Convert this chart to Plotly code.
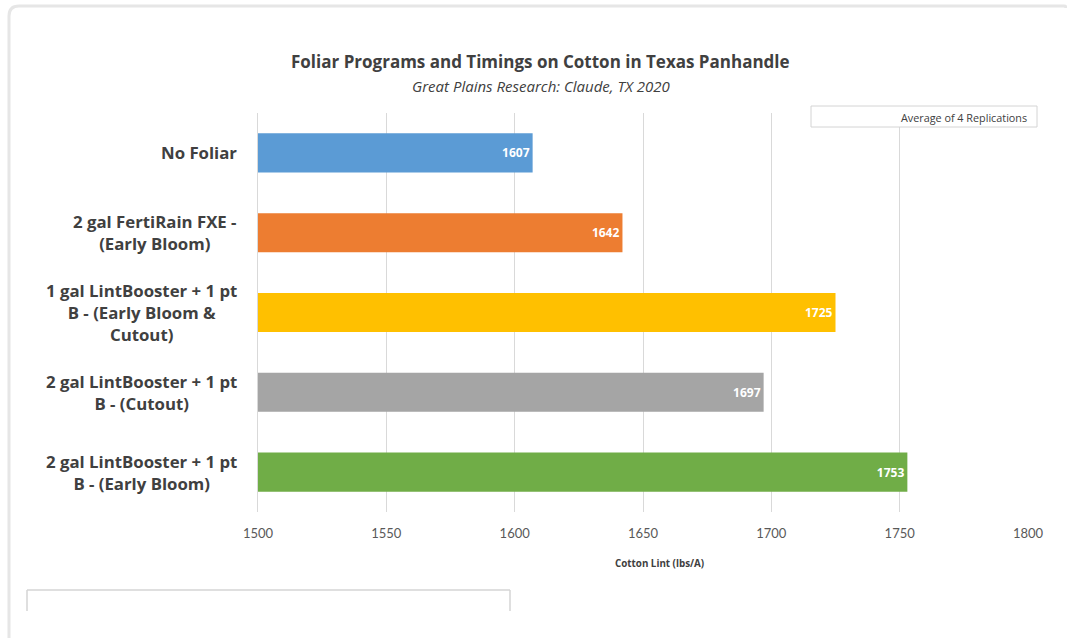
import plotly.graph_objects as go

categories = [
    "No Foliar",
    "2 gal FertiRain FXE -<br>(Early Bloom)",
    "1 gal LintBooster + 1 pt<br>B - (Early Bloom &amp;<br>Cutout)",
    "2 gal LintBooster + 1 pt<br>B - (Cutout)",
    "2 gal LintBooster + 1 pt<br>B - (Early Bloom)",
]
values = [1607, 1642, 1725, 1697, 1753]
colors = ["#5B9BD5", "#ED7D31", "#FFC000", "#A5A5A5", "#70AD47"]
x_ticks = [1500, 1550, 1600, 1650, 1700, 1750, 1800]

W, H = 1067, 638
L, R, T, B = 258, 1028, 113, 512

def px(x):
    return (x - L) / (R - L)

def py(y):
    return (B - y) / (B - T)

fig = go.Figure(go.Bar(
    y=categories, x=values, orientation="h",
    marker=dict(color=colors, line=dict(width=0)),
    text=[str(v) for v in values], textposition="inside",
    insidetextanchor="end",
    textfont=dict(color="white", size=12, family="Open Sans", weight="bold"),
    width=0.49, cliponaxis=False,
))

fig.update_layout(
    width=W, height=H,
    margin=dict(l=L, r=W - R, t=T, b=H - B),
    paper_bgcolor="white", plot_bgcolor="white",
    showlegend=False,
    font=dict(family="Open Sans"),
    xaxis=dict(range=[1500, 1800], tickvals=x_ticks, showgrid=True,
               gridcolor="#d9d9d9", gridwidth=1, zeroline=False,
               tickfont=dict(size=13, color="#595959", family="Lato"),
               ticklabelstandoff=12),
    yaxis=dict(autorange="reversed", showline=True, linecolor="#d9d9d9",
               linewidth=1, showgrid=False, showticklabels=False),
)

# category labels (centered multi-line, right edge at x=238)
for c in categories:
    fig.add_annotation(xref="paper", yref="y", x=px(239), y=c, text=f"<b>{c}</b>",
                       showarrow=False, align="center", xanchor="right",
                       yanchor="middle",
                       font=dict(size=16.8, color="#404040", family="Open Sans"))

shapes = []
# outer card border
d = (f"M {px(9)} {py(700)} L {px(9)} {py(16)} Q {px(9)} {py(6)} {px(19)} {py(6)} "
     f"L {px(1064)} {py(6)} Q {px(1066)} {py(6)} {px(1066)} {py(8)}")
shapes.append(dict(type="path", xref="paper", yref="paper", path=d,
                   line=dict(color="#e6e6e6", width=3)))
# average box
shapes.append(dict(type="rect", xref="paper", yref="paper",
                   x0=px(811), x1=px(1037), y0=py(127), y1=py(106),
                   fillcolor="white", line=dict(color="#d4d4d4", width=1), layer="above"))
# bottom-left box (partial)
for (x0, y0, x1, y1) in [(27, 590, 510, 590), (27, 590, 27, 611), (510, 590, 510, 611)]:
    shapes.append(dict(type="line", xref="paper", yref="paper",
                       x0=px(x0), y0=py(y0), x1=px(x1), y1=py(y1),
                       line=dict(color="#d4d4d4", width=1.5)))
fig.update_layout(shapes=shapes)

fig.add_annotation(xref="paper", yref="paper", x=px(540), y=py(62),
                   text="<b>Foliar Programs and Timings on Cotton in Texas Panhandle</b>",
                   showarrow=False, font=dict(size=17, color="#404040"),
                   xanchor="center", yanchor="middle")
fig.add_annotation(xref="paper", yref="paper", x=px(541), y=py(86),
                   text="<i>Great Plains Research: Claude, TX 2020</i>",
                   showarrow=False, font=dict(size=15, color="#404040"),
                   xanchor="center", yanchor="middle")
fig.add_annotation(xref="paper", yref="paper", x=px(1029), y=py(117),
                   text="Average of 4 Replications",
                   showarrow=False, font=dict(size=10.8, color="#404040"),
                   xanchor="right", yanchor="middle")
fig.add_annotation(xref="paper", yref="paper", x=px(659), y=py(563),
                   text="<b>Cotton Lint (lbs/A)</b>",
                   showarrow=False, font=dict(size=9.8, color="#404040"),
                   xanchor="center", yanchor="middle")

fig.write_html("out.html")
